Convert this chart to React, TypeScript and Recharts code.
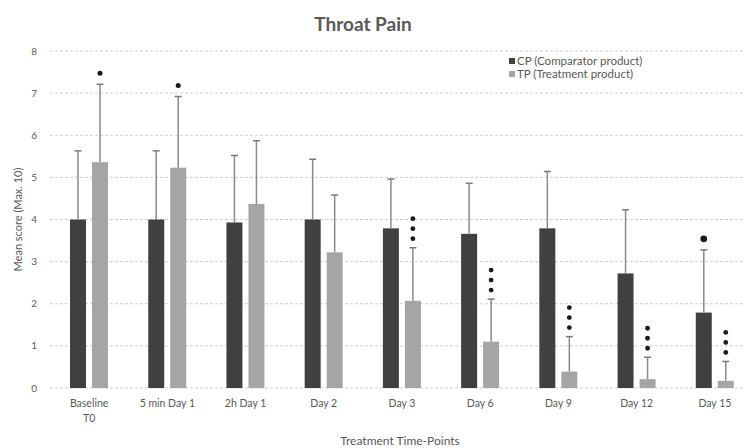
import React from "react";
import { BarChart, Bar, XAxis, YAxis, CartesianGrid, Legend } from "recharts";

const categories = ["Baseline\nT0", "5 min Day 1", "2h Day 1", "Day 2", "Day 3", "Day 6", "Day 9", "Day 12", "Day 15"];
const cpMean = [4.0, 4.0, 3.93, 4.0, 3.79, 3.66, 3.79, 2.72, 1.79];
const cpErr = [1.63, 1.63, 1.59, 1.43, 1.17, 1.2, 1.35, 1.51, 1.49];
const tpMean = [5.36, 5.23, 4.37, 3.22, 2.07, 1.1, 0.39, 0.21, 0.17];
const tpErr = [1.85, 1.69, 1.5, 1.36, 1.26, 1.01, 0.83, 0.52, 0.46];
const cpSig = [0, 0, 0, 0, 0, 0, 0, 0, 1];
const tpSig = [1, 1, 0, 0, 3, 3, 3, 3, 3];
const yTicks = [0, 1, 2, 3, 4, 5, 6, 7, 8];

const data = categories.map((name, i) => ({
  name,
  cp: cpMean[i],
  tp: tpMean[i],
  cpErr: cpErr[i],
  tpErr: tpErr[i],
  cpSig: cpSig[i],
  tpSig: tpSig[i],
}));

const FONT = "Lato, 'Open Sans', sans-serif";
const TEXT = "#595959";

const makeShape = (errKey: string, sigKey: string, bigDot: boolean) => (props: any) => {
  const { x, y, width, height, payload, fill } = props;
  const v = payload[errKey === "cpErr" ? "cp" : "tp"];
  const ppu = v > 0 ? height / v : 0;
  const err = payload[errKey];
  const sig = payload[sigKey];
  const cx = x + width / 2;
  const top = y - err * ppu;
  const dots: any[] = [];
  for (let k = 0; k < sig; k++) {
    const single = sig === 1;
    const cy = single ? top - 11 : top - 9 - k * 10;
    const r = single ? (bigDot ? 3.4 : 2.5) : 2.4;
    dots.push(<circle key={k} cx={cx} cy={cy} r={r} fill="#1a1a1a" />);
  }
  return (
    <g>
      <rect x={x} y={y} width={width} height={height} fill={fill} />
      <line x1={cx} x2={cx} y1={y} y2={top} stroke="#8a8a8a" strokeWidth={1.5} />
      <line x1={cx - 3.5} x2={cx + 3.5} y1={top} y2={top} stroke="#7a7a7a" strokeWidth={1.5} />
      {dots}
    </g>
  );
};

const XTick = (props: any) => {
  const { x, y, payload } = props;
  const lines = String(payload.value).split("\n");
  return (
    <text x={x} y={y} textAnchor="middle" fill={TEXT} fontSize={10.5} fontFamily={FONT}>
      {lines.map((l, i) => (
        <tspan key={i} x={x} dy={i === 0 ? 11 : 15}>
          {l}
        </tspan>
      ))}
    </text>
  );
};

const LegendContent = () => (
  <div style={{ fontFamily: FONT, fontSize: 11.5, color: TEXT, lineHeight: "12.5px" }}>
    <div style={{ display: "flex", alignItems: "center" }}>
      <span style={{ display: "inline-block", width: 6, height: 6, background: "#404040", marginRight: 2 }} />
      CP (Comparator product)
    </div>
    <div style={{ display: "flex", alignItems: "center" }}>
      <span style={{ display: "inline-block", width: 6, height: 6, background: "#a5a5a5", marginRight: 2 }} />
      TP (Treatment product)
    </div>
  </div>
);

export default function App() {
  return (
    <div style={{ position: "absolute", left: 0, top: 0, width: 744, height: 448, overflow: "hidden", background: "#fff" }}>
      <div
        style={{
          position: "absolute",
          left: 0,
          width: 726,
          top: 12,
          textAlign: "center",
          fontFamily: FONT,
          fontWeight: 700,
          fontSize: 19,
          color: TEXT,
          lineHeight: "24px",
        }}
      >
        Throat Pain
      </div>
      <BarChart
        width={756}
        height={448}
        data={data}
        margin={{ top: 51, right: 2, bottom: 0, left: 0 }}
        barSize={16}
        barGap={6}
      >
        <CartesianGrid vertical={false} stroke="#cfcfcf" strokeDasharray="3 2" />
        <XAxis
          dataKey="name"
          axisLine={false}
          tickLine={false}
          interval={0}
          tick={<XTick />}
          height={60}
          label={() => (
            <text x={400} y={445} textAnchor="middle" fill={TEXT} fontSize={12} fontFamily={FONT}>
              Treatment Time-Points
            </text>
          )}
        />
        <YAxis
          domain={[0, 8]}
          ticks={yTicks}
          width={50}
          axisLine={false}
          tickLine={false}
          tickSize={0}
          tickMargin={13}
          tick={{ fill: TEXT, fontSize: 10, fontFamily: FONT }}
          label={() => (
            <text
              x={17}
              y={219.5}
              transform="rotate(-90 17 219.5)"
              textAnchor="middle"
              dominantBaseline="central"
              fill={TEXT}
              fontSize={11}
              fontFamily={FONT}
            >
              Mean score (Max. 10)
            </text>
          )}
        />
        <Legend
          layout="horizontal"
          verticalAlign="middle"
          align="center"
          content={<LegendContent />}
          wrapperStyle={{ position: "absolute", top: 55, left: 509, width: 220 }}
        />
        <Bar dataKey="cp" name="CP (Comparator product)" fill="#404040" isAnimationActive={false} shape={makeShape("cpErr", "cpSig", true)} />
        <Bar dataKey="tp" name="TP (Treatment product)" fill="#a5a5a5" isAnimationActive={false} shape={makeShape("tpErr", "tpSig", false)} />
      </BarChart>
    </div>
  );
}
